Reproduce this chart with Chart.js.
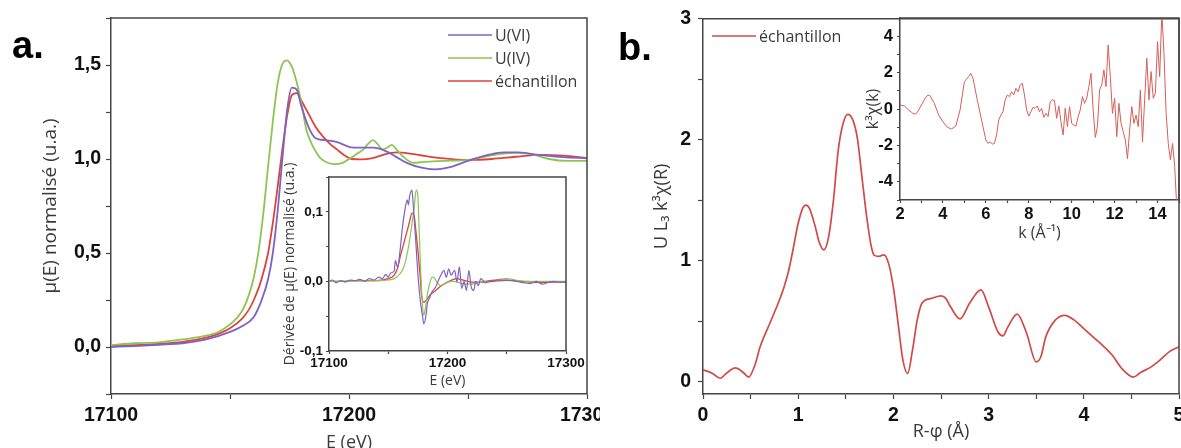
<!DOCTYPE html>
<html>
<head>
<meta charset="utf-8">
<script src="https://cdn.jsdelivr.net/npm/chart.js@4.4.1/dist/chart.umd.min.js"></script>
<style>
  body { margin: 0; width: 1181px; height: 448px; overflow: hidden; background: #fff; position: relative; }
  .wrap { position: absolute; top: 0; height: 448px; overflow: hidden; }
  canvas { position: absolute; }
</style>
</head>
<body>
<div class="wrap" id="wa" style="left:0;width:600px">
  <canvas id="xanes" width="640" height="460" style="left:0;top:0"></canvas>
  <canvas id="deriv" width="330" height="240" style="left:270px;top:160px"></canvas>
</div>
<div class="wrap" id="wb" style="left:600px;width:581px">
  <canvas id="exafsR" width="600" height="460" style="left:0;top:0"></canvas>
  <canvas id="exafsK" width="360" height="250" style="left:240px;top:0"></canvas>
</div>
<script>
// --- a. XANES normalisé [E (eV), mu] ---
const xanesVI = [[17100,0.0],[17110,0.005],[17120,0.012],[17130,0.02],[17140,0.04],[17150,0.08],[17155,0.11],[17160,0.16],[17163,0.24],[17166,0.36],[17168,0.5],[17170,0.72],[17172,1.0],[17174,1.26],[17176,1.38],[17178,1.37],[17180,1.28],[17183,1.17],[17186,1.11],[17190,1.1],[17195,1.09],[17200,1.065],[17205,1.06],[17210,1.06],[17215,1.045],[17220,1.01],[17225,0.975],[17230,0.955],[17236,0.945],[17242,0.955],[17250,0.99],[17258,1.02],[17265,1.035],[17270,1.035],[17280,1.022],[17290,1.01],[17300,1.004]];
const xanesIV = [[17100,0.01],[17110,0.02],[17120,0.025],[17130,0.04],[17140,0.06],[17145,0.08],[17150,0.12],[17155,0.19],[17158,0.28],[17160,0.37],[17162,0.51],[17164,0.71],[17166,0.96],[17168,1.2],[17170,1.4],[17172,1.505],[17174,1.525],[17176,1.49],[17178,1.41],[17180,1.3],[17182,1.16],[17184,1.09],[17186,1.04],[17188,1.005],[17191,0.98],[17194,0.973],[17197,0.978],[17200,1.0],[17203,1.025],[17206,1.05],[17208,1.08],[17210,1.1],[17212,1.08],[17214,1.05],[17216,1.06],[17218,1.075],[17220,1.05],[17223,1.01],[17227,0.98],[17232,0.985],[17240,0.99],[17250,0.995],[17260,1.02],[17266,1.03],[17271,1.034],[17277,1.025],[17284,1.0],[17292,0.99],[17300,0.99]];
const xanesEch = [[17100,0.005],[17110,0.01],[17120,0.017],[17130,0.027],[17140,0.05],[17145,0.07],[17150,0.1],[17155,0.15],[17158,0.2],[17160,0.25],[17163,0.35],[17166,0.5],[17168,0.66],[17170,0.85],[17172,1.05],[17174,1.23],[17176,1.34],[17178,1.35],[17180,1.31],[17183,1.24],[17186,1.17],[17189,1.12],[17192,1.08],[17195,1.05],[17198,1.02],[17201,1.0],[17205,0.998],[17210,1.005],[17215,1.025],[17220,1.035],[17225,1.03],[17230,1.02],[17240,1.003],[17250,0.995],[17260,1.0],[17270,1.012],[17280,1.022],[17290,1.018],[17300,1.005]];

// --- a. encart : dérivée [E (eV), dmu/dE] ---
const derivVI = [[17100,0],[17103,0.002],[17106,-0.002],[17110,0.001],[17114,-0.001],[17118,0.002],[17122,0.001],[17126,0.003],[17130,0],[17134,0.004],[17138,0.002],[17142,0.006],[17145,0.004],[17148,0.01],[17150,0.006],[17152,0.012],[17155,0.015],[17156,0.03],[17158,0.02],[17160,0.045],[17162,0.078],[17164,0.102],[17166,0.117],[17167,0.11],[17168,0.122],[17170,0.131],[17171,0.112],[17173,0.064],[17175,0.011],[17177,-0.027],[17179,-0.051],[17180,-0.061],[17182,-0.047],[17183,-0.032],[17185,-0.023],[17187,-0.015],[17190,-0.008],[17193,0.004],[17195,0.011],[17197,0.016],[17199,0.006],[17201,0.018],[17203,0.009],[17206,0.016],[17208,-0.001],[17210,0.021],[17212,-0.01],[17214,0],[17216,-0.013],[17218,0.016],[17220,-0.008],[17222,-0.013],[17224,0],[17226,-0.006],[17228,0.004],[17232,-0.002],[17236,0.001],[17240,0.0015],[17245,0.002],[17250,0.002],[17255,0.001],[17260,-0.0005],[17265,-0.002],[17270,-0.003],[17275,0],[17280,-0.004],[17285,-0.0015],[17290,0],[17295,-0.001],[17300,-0.001]];
const derivIV = [[17100,0],[17120,0.0005],[17140,0.001],[17150,0.002],[17155,0.004],[17160,0.011],[17163,0.02],[17166,0.04],[17168,0.059],[17170,0.083],[17172,0.107],[17173,0.126],[17174,0.131],[17175,0.122],[17176,0.078],[17177,0.03],[17178,-0.008],[17179,-0.037],[17180,-0.049],[17181,-0.042],[17183,-0.018],[17185,-0.003],[17187,0.006],[17189,0.005],[17191,-0.001],[17194,-0.006],[17197,-0.004],[17200,-0.001],[17205,0],[17210,-0.002],[17215,-0.004],[17220,-0.004],[17225,-0.002],[17230,0],[17240,0.002],[17250,0.004],[17255,0.003],[17260,0.001],[17270,0],[17300,0]];
const derivEch = [[17100,0],[17110,0],[17120,0.001],[17130,0.001],[17140,0.001],[17145,0.002],[17150,0.004],[17155,0.009],[17158,0.02],[17160,0.035],[17163,0.054],[17166,0.073],[17168,0.086],[17170,0.098],[17172,0.093],[17173,0.078],[17175,0.045],[17177,0.006],[17178,-0.018],[17180,-0.03],[17182,-0.027],[17185,-0.02],[17190,-0.013],[17195,-0.006],[17200,-0.001],[17205,0.003],[17208,0.004],[17212,0.0025],[17220,-0.001],[17230,-0.001],[17240,0.0005],[17250,0.0015],[17260,0.0005],[17270,-0.001],[17280,-0.0015],[17290,-0.001],[17300,-0.001]];

// --- b. transformée de Fourier [R-phi (Å), |chi(R)|] ---
const chiR = [[0,0.10],[0.1,0.07],[0.18,0.03],[0.25,0.074],[0.34,0.115],[0.42,0.08],[0.48,0.04],[0.55,0.15],[0.6,0.29],[0.7,0.48],[0.8,0.67],[0.85,0.78],[0.9,0.92],[0.95,1.11],[1.0,1.31],[1.05,1.44],[1.08,1.46],[1.12,1.43],[1.18,1.28],[1.22,1.155],[1.27,1.09],[1.32,1.2],[1.37,1.5],[1.42,1.91],[1.47,2.13],[1.52,2.21],[1.57,2.17],[1.62,2.02],[1.67,1.69],[1.72,1.36],[1.77,1.11],[1.8,1.045],[1.85,1.037],[1.9,1.05],[1.95,0.977],[2.0,0.78],[2.05,0.48],[2.1,0.18],[2.15,0.07],[2.2,0.26],[2.25,0.51],[2.3,0.65],[2.4,0.69],[2.5,0.71],[2.55,0.69],[2.6,0.62],[2.7,0.52],[2.8,0.65],[2.92,0.76],[3.0,0.62],[3.1,0.41],[3.15,0.38],[3.2,0.45],[3.3,0.56],[3.4,0.4],[3.5,0.165],[3.55,0.21],[3.6,0.37],[3.7,0.51],[3.8,0.55],[3.9,0.51],[4.0,0.44],[4.1,0.37],[4.2,0.30],[4.3,0.22],[4.4,0.11],[4.52,0.04],[4.6,0.08],[4.7,0.12],[4.8,0.18],[4.9,0.25],[5.0,0.29]];

// --- b. encart : k3 chi(k) [k (1/Å), valeur] ---
const chiK = [[2.0,0.22],[2.2,0.17],[2.4,-0.05],[2.6,-0.24],[2.7,-0.28],[2.8,-0.2],[3.0,0.22],[3.2,0.64],[3.3,0.77],[3.4,0.73],[3.6,0.31],[3.8,-0.33],[4.0,-0.7],[4.2,-1.0],[4.4,-1.1],[4.6,-0.94],[4.8,-0.05],[5.0,1.5],[5.2,1.78],[5.3,1.96],[5.4,1.69],[5.6,0.5],[5.8,-0.6],[6.0,-1.7],[6.1,-1.89],[6.2,-1.8],[6.3,-1.93],[6.4,-1.89],[6.5,-1.43],[6.6,-0.6],[6.7,-0.33],[6.8,-0.15],[6.9,0.5],[7.0,0.77],[7.1,0.68],[7.2,0.95],[7.3,0.77],[7.4,1.14],[7.5,0.95],[7.6,1.32],[7.7,1.41],[7.8,0.77],[7.9,-0.05],[8.0,-0.39],[8.1,-0.15],[8.2,0.09],[8.3,0.04],[8.4,0.17],[8.5,-0.15],[8.6,0.04],[8.7,-0.46],[8.8,-0.24],[8.9,-0.42],[9.0,0.4],[9.1,0.5],[9.2,0.46],[9.3,-0.51],[9.4,0.17],[9.5,-0.7],[9.6,-1.43],[9.7,0.04],[9.8,-0.97],[9.9,0.13],[10.0,-0.79],[10.1,-0.88],[10.2,-0.94],[10.3,-0.42],[10.4,-0.05],[10.5,0.68],[10.6,0.31],[10.7,0.59],[10.8,1.23],[10.9,1.96],[11.0,-0.05],[11.1,-1.56],[11.2,-0.97],[11.3,1.05],[11.4,1.32],[11.5,2.15],[11.6,1.23],[11.7,3.52],[11.8,1.78],[11.9,-0.24],[12.0,0.59],[12.1,-1.52],[12.2,0.31],[12.3,-0.79],[12.4,-1.25],[12.5,-1.7],[12.6,-2.72],[12.7,-1.16],[12.8,0.13],[12.9,-0.79],[13.0,-0.33],[13.1,-0.97],[13.2,1.05],[13.3,-1.8],[13.4,0.5],[13.5,2.79],[13.6,0.5],[13.7,2.06],[13.8,0.59],[13.9,0.86],[14.0,3.7],[14.1,1.78],[14.2,5.3],[14.3,3.06],[14.4,-0.24],[14.5,-1.89],[14.6,-2.8],[14.7,-1.89],[14.8,-3.17],[14.9,-5.5]];

const tickFont = "'Liberation Sans', Arial, sans-serif";
const textFont = "'Open Sans', sans-serif";
const axisColor = '#454545';

function pts(arr) { return arr.map(p => ({x: p[0], y: p[1]})); }
function comma(v, d) { const r = Math.round(v * 1000) / 1000; return (r === 0 ? 0 : r).toFixed(d).replace('.', ','); }
function every(step) { return v => Math.abs(v / step - Math.round(v / step)) < 1e-6; }

function axis(o) {
  return {
    type: 'linear', min: o.min, max: o.max,
    ticks: {
      stepSize: o.step, includeBounds: false, autoSkip: false, maxRotation: 0,
      padding: o.pad, color: '#111',
      font: {family: tickFont, weight: 'bold', size: o.size},
      callback: o.fmt
    },
    grid: {drawOnChartArea: false, drawTicks: true, tickLength: o.tl, tickColor: axisColor, tickWidth: 1.2},
    border: {display: true, color: axisColor, width: 1.5},
    title: {display: true, text: o.title, color: '#3a3a3a', font: {family: textFont, size: o.tsize}, padding: o.tpad},
    afterFit: s => { if (s.isHorizontal()) s.height = o.fit; else s.width = o.fit; }
  };
}

// cadre complet (haut + droite) et textes libres
const framePlugin = {
  id: 'frame',
  afterDraw(chart, args, opts) {
    const {ctx, chartArea: a} = chart;
    ctx.save();
    ctx.strokeStyle = axisColor;
    ctx.lineWidth = 1.5;
    ctx.beginPath();
    ctx.moveTo(a.left, a.top); ctx.lineTo(a.right, a.top); ctx.lineTo(a.right, a.bottom);
    ctx.stroke();
    (opts.legend || []).forEach((it, i) => {
      const ds = chart.data.datasets[i];
      ctx.strokeStyle = ds.borderColor;
      ctx.lineWidth = 1.6;
      ctx.beginPath(); ctx.moveTo(it.x, it.y); ctx.lineTo(it.x + 44, it.y); ctx.stroke();
      ctx.fillStyle = '#3a3a3a';
      ctx.font = "16px " + textFont;
      ctx.textBaseline = 'middle';
      ctx.fillText(ds.label, it.x + 47, it.y + 1);
    });
    if (opts.tag) {
      ctx.fillStyle = '#000';
      ctx.font = "bold 38px " + tickFont;
      ctx.textBaseline = 'alphabetic';
      ctx.fillText(opts.tag.text, opts.tag.x, opts.tag.y);
    }
    ctx.restore();
  }
};

function line(label, data, color, w) {
  return {label, data: pts(data), borderColor: color, backgroundColor: color, borderWidth: w,
          pointRadius: 0, cubicInterpolationMode: 'monotone', fill: false};
}

const purple = '#7e62c4', green = '#8ec453', red = '#df423b';

function base(padding, scales, frame) {
  return {
    responsive: false, animation: false, devicePixelRatio: 1,
    layout: {padding},
    plugins: {legend: {display: false}, tooltip: {enabled: false}, frame},
    scales
  };
}

new Chart('xanes', {
  type: 'line',
  data: {datasets: [
    line('U(VI)', xanesVI, purple, 1.8),
    line('U(IV)', xanesIV, green, 1.8),
    line('échantillon', xanesEch, red, 1.8)
  ]},
  options: base({top: 18, right: 53, left: 0, bottom: 0}, {
    x: axis({min: 17100, max: 17300, step: 50, pad: 5, size: 19.5, tl: 5, fit: 66,
             fmt: v => every(100)(v) ? String(v) : '', title: 'E (eV)', tsize: 18, tpad: {top: 0, bottom: 6}}),
    y: axis({min: -0.25, max: 1.75, step: 0.25, pad: 5, size: 19.5, tl: 5, fit: 111,
             fmt: v => every(0.5)(v) ? comma(v, 1) : '', title: 'µ(E) normalisé (u.a.)', tsize: 19, tpad: {top: 39, bottom: 0}})
  }, {legend: [{x: 448, y: 35}, {x: 448, y: 58}, {x: 448, y: 81}], tag: {text: 'a.', x: 12, y: 58}}),
  plugins: [framePlugin]
});

new Chart('deriv', {
  type: 'line',
  data: {datasets: [
    line('U(VI)', derivVI, purple, 1.2),
    line('U(IV)', derivIV, green, 1.2),
    line('échantillon', derivEch, red, 1.3)
  ]},
  options: base({top: 17, right: 34, left: 0, bottom: 0}, {
    x: axis({min: 17100, max: 17300, step: 50, pad: 1, size: 13.5, tl: 3, fit: 49,
             fmt: v => every(100)(v) ? String(v) : '', title: 'E (eV)', tsize: 14, tpad: {top: 0, bottom: 11}}),
    y: axis({min: -0.1, max: 0.15, step: 0.05, pad: 3, size: 13.5, tl: 3, fit: 59,
             fmt: v => every(0.1)(v) ? comma(v, 1) : '', title: 'Dérivée de µ(E) normalisé (u.a.)', tsize: 14, tpad: {top: 12, bottom: 0}})
  }, {}),
  plugins: [framePlugin]
});

new Chart('exafsR', {
  type: 'line',
  data: {datasets: [line('échantillon', chiR, '#d04a47', 1.7)]},
  options: base({top: 18, right: 21, left: 0, bottom: 0}, {
    x: axis({min: 0, max: 5, step: 0.5, pad: 5, size: 19.5, tl: 5, fit: 66,
             fmt: v => every(1)(v) ? String(v) : '', title: 'R-φ (Å)', tsize: 18, tpad: {top: 0, bottom: 17}}),
    y: axis({min: -0.1, max: 3, step: 0.5, pad: 7, size: 19.5, tl: 5, fit: 103,
             fmt: v => every(1)(v) ? String(v) : '', title: 'U L₃ k³χ(R)', tsize: 18, tpad: {top: 51, bottom: 0}})
  }, {legend: [{x: 112, y: 36}], tag: {text: 'b.', x: 18, y: 60}}),
  plugins: [framePlugin]
});

new Chart('exafsK', {
  type: 'line',
  data: {datasets: [{label: 'k3chi', data: pts(chiK), borderColor: '#d65e5a', borderWidth: 1, pointRadius: 0, fill: false}]},
  options: base({top: 18, right: 21, left: 0, bottom: 0}, {
    x: axis({min: 2, max: 15, step: 1, pad: 2, size: 16.5, tl: 3, fit: 50,
             fmt: v => every(2)(v) ? String(v) : '', title: 'k (Å⁻¹)', tsize: 16, tpad: {top: 0, bottom: 7}}),
    y: axis({min: -5, max: 5, step: 1, pad: 4, size: 16.5, tl: 3, fit: 60,
             fmt: v => every(2)(v) ? String(v) : '', title: 'k³χ(k)', tsize: 16, tpad: {top: 24, bottom: 0}})
  }, {}),
  plugins: [framePlugin]
});
</script>
</body>
</html>
